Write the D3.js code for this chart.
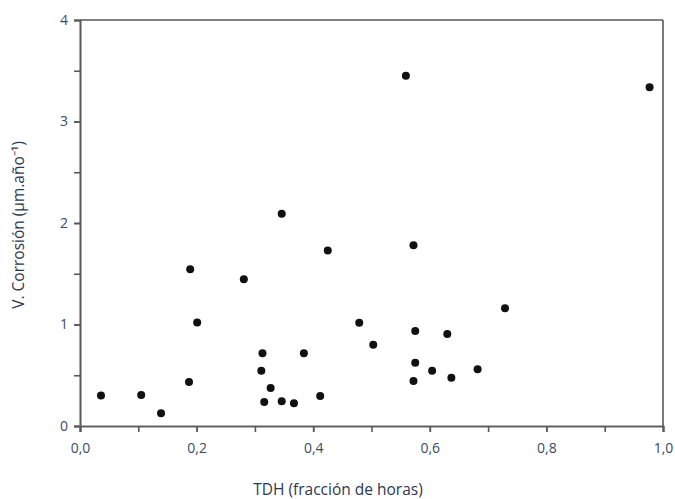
<!DOCTYPE html>
<html lang="es">
<head>
  <meta charset="UTF-8">
  <style>
    body { margin: 0; background: #fff; overflow: hidden; }
    svg { display: block; }
    .tick text { fill: #3d4a66; font-family: "Open Sans", sans-serif; font-size: 14px; }
    .domain, .tick line { stroke: #5a5a5a; stroke-width: 1.6; }
    .title { fill: #2e3850; font-family: "Open Sans", sans-serif; font-size: 15.5px; }
    .dot { fill: #111; }
  </style>
  <script src="https://d3js.org/d3.v7.min.js"></script>
</head>
<body>
<svg id="chart"></svg>
<script>
  // TDH (fracción de horas) vs velocidad de corrosión
  const tdh = [0.036, 0.105, 0.139, 0.187, 0.189, 0.201, 0.281, 0.313, 0.311, 0.327,
               0.316, 0.346, 0.346, 0.367, 0.384, 0.412, 0.425, 0.479, 0.503, 0.559,
               0.572, 0.575, 0.575, 0.572, 0.604, 0.630, 0.637, 0.682, 0.729, 0.977];
  const vcorr = [0.30, 0.305, 0.125, 0.433, 1.544, 1.02, 1.445, 0.716, 0.545, 0.374,
                 0.236, 2.09, 0.243, 0.224, 0.716, 0.296, 1.73, 1.018, 0.80, 3.45,
                 1.78, 0.936, 0.624, 0.443, 0.545, 0.906, 0.476, 0.558, 1.16, 3.337];
  const xTicks = [0, 0.2, 0.4, 0.6, 0.8, 1.0];
  const yTicks = [0, 1, 2, 3, 4];

  const width = 675, height = 499;
  const m = { left: 80, right: 12, top: 20, bottom: 73 };

  const svg = d3.select("#chart").attr("width", width).attr("height", height);

  const x = d3.scaleLinear().domain([0, 1]).range([m.left, width - m.right]);
  const y = d3.scaleLinear().domain([0, 4]).range([height - m.bottom, m.top]);

  const fmt = d => d3.format(".1f")(d).replace(".", ",");

  // minor ticks
  const xMinor = d3.range(0, 1.0001, 0.1);
  const yMinor = d3.range(0, 4.0001, 0.5);

  svg.append("g")
    .attr("transform", `translate(0,${y(0)})`)
    .call(d3.axisBottom(x).tickValues(xMinor).tickSize(6).tickFormat(""));
  svg.append("g")
    .attr("transform", `translate(0,${y(0)})`)
    .call(d3.axisBottom(x).tickValues(xTicks).tickSize(6).tickPadding(11).tickFormat(fmt));

  svg.append("g")
    .attr("transform", `translate(${x(0)},0)`)
    .call(d3.axisLeft(y).tickValues(yMinor).tickSize(6).tickFormat(""));
  svg.append("g")
    .attr("transform", `translate(${x(0)},0)`)
    .call(d3.axisLeft(y).tickValues(yTicks).tickSize(6).tickPadding(6).tickFormat(d3.format("d")));

  // frame top and right
  svg.append("line").attr("class", "domain")
    .attr("x1", x(0)).attr("x2", x(1)).attr("y1", y(4)).attr("y2", y(4));
  svg.append("line").attr("class", "domain")
    .attr("x1", x(1)).attr("x2", x(1)).attr("y1", y(4)).attr("y2", y(0));

  svg.selectAll(".dot")
    .data(tdh.map((d, i) => [d, vcorr[i]]))
    .join("circle")
    .attr("class", "dot")
    .attr("cx", d => x(d[0]))
    .attr("cy", d => y(d[1]))
    .attr("r", 4);

  svg.append("text").attr("class", "title")
    .attr("x", 338).attr("y", 495)
    .attr("text-anchor", "middle")
    .text("TDH (fracción de horas)");

  svg.append("text").attr("class", "title")
    .attr("transform", `translate(24,225) rotate(-90)`)
    .attr("text-anchor", "middle")
    .text("V. Corrosión (µm.año\u207B\u00B9)");
</script>
</body>
</html>
